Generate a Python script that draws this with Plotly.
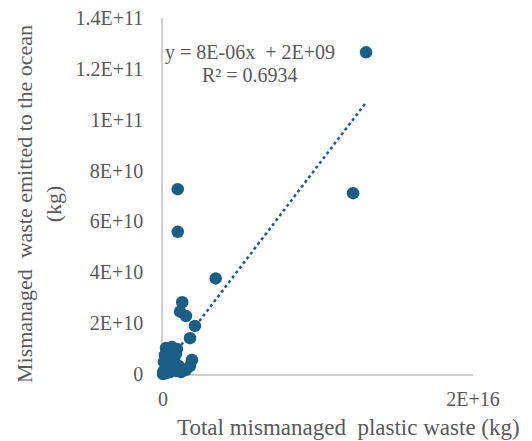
import plotly.graph_objects as go

# Total mismanaged plastic waste (kg) vs mismanaged waste emitted to the ocean (kg)
total_mismanaged = [
    1.31e16, 1.226e16, 9.5e14, 9.5e14, 3.4e15, 1.24e15, 1.1e15, 1.48e15, 2.06e15, 1.74e15,
    1.87e15, 1.74e15, 1.48e15, 1.16e15,
    1.9e14, 5.8e14, 9.0e14, 1.3e14, 4.5e14, 8.4e14, 6e13, 3.2e14, 7.1e14, 1.03e15,
    1.3e14, 4.5e14, 8.4e14, 2e13, 1e13, 5e12, 1e14, 2.5e14, 6e14, 3e13, 1.5e14, 3.5e14,
]
ocean_emitted = [
    1.265e11, 7.11e10, 7.27e10, 5.59e10, 3.76e10, 2.82e10, 2.45e10, 2.28e10, 1.89e10, 1.41e10,
    5.5e9, 3.1e9, 1.6e9, 8e8,
    1.02e10, 1.06e10, 9.8e9, 7.5e9, 7.1e9, 7.9e9, 4.7e9, 3.9e9, 5.5e9, 3.1e9,
    1.6e9, 8e8, 1.2e9, 2e8, 1e8, 5e7, 3e8, 5e8, 2.5e9, 1e9, 6e9, 9e9,
]

# Linear trendline as reported on the chart
trend_slope = 8e-06
trend_intercept = 2e09
trend_label = "y = 8E-06x\u00a0 + 2E+09"
r2_label = "R² = 0.6934"

y_tickvals = [0, 2e10, 4e10, 6e10, 8e10, 1e11, 1.2e11, 1.4e11]
y_ticktext = ["0", "2E+10", "4E+10", "6E+10", "8E+10", "1E+11", "1.2E+11", "1.4E+11"]
x_tickvals = [0, 2e16]
x_ticktext = ["0", "2E+16"]

x_title = "Total mismanaged\u00a0 plastic waste (kg)"
y_title = "Mismanaged\u00a0 waste emitted to the ocean<br>(kg)"

COLOR = "#1a5e86"
TEXT = "#595959"
FONT = "Liberation Serif"

xmin, xmax = min(total_mismanaged), max(total_mismanaged)
trend_x = [xmin, xmax]
trend_y = [trend_slope * v + trend_intercept for v in trend_x]

# page body has an 8px default margin; the figure is sized to fill the rest
PAD = 8
L, R, T, B = 163 - PAD, 59, 18 - PAD, 67
PW, PH = 310, 356  # plot area size in px

def px_x(px):
    return (px - 163) / PW

def px_y(py):
    return (374 - py) / PH

fig = go.Figure()
fig.add_trace(go.Scatter(
    x=trend_x, y=trend_y, mode="lines",
    line=dict(color=COLOR, width=2.5, dash="dot"),
    hoverinfo="skip", cliponaxis=False,
))
fig.add_trace(go.Scatter(
    x=total_mismanaged, y=ocean_emitted, mode="markers",
    marker=dict(color=COLOR, size=12.5, line=dict(width=0)),
    cliponaxis=False,
))

fig.update_layout(
    width=532 - PAD, height=441 - PAD,
    margin=dict(l=L, r=R, t=T, b=B, autoexpand=False),
    paper_bgcolor="white", plot_bgcolor="white",
    showlegend=False,
    font=dict(family=FONT, color=TEXT, size=20),
    xaxis=dict(
        range=[0, 2e16], tickvals=x_tickvals, ticktext=x_ticktext,
        showgrid=False, zeroline=False, showline=True, linecolor="#d0d0d0", linewidth=1.5,
        ticks="", ticklabelstandoff=6, layer="below traces", automargin=False,
        ticklabeloverflow="allow",
        tickfont=dict(family=FONT, color=TEXT, size=20),
    ),
    yaxis=dict(
        range=[0, 1.4e11], tickvals=y_tickvals, ticktext=y_ticktext,
        showgrid=False, zeroline=False, showline=True, linecolor="#d0d0d0", linewidth=1.5,
        ticks="", ticklabelstandoff=14, layer="below traces", automargin=False,
        ticklabeloverflow="allow",
        tickfont=dict(family=FONT, color=TEXT, size=20),
    ),
    annotations=[
        dict(text=trend_label, xref="paper", yref="paper", x=px_x(250), y=px_y(52),
             xanchor="center", yanchor="middle", showarrow=False,
             font=dict(family=FONT, color=TEXT, size=20)),
        dict(text=r2_label, xref="paper", yref="paper", x=px_x(250), y=px_y(75),
             xanchor="center", yanchor="middle", showarrow=False,
             font=dict(family=FONT, color=TEXT, size=20)),
        dict(text=x_title, xref="paper", yref="paper", x=px_x(348), y=px_y(427),
             xanchor="center", yanchor="middle", showarrow=False,
             font=dict(family=FONT, color=TEXT, size=23)),
        dict(text=y_title, xref="paper", yref="paper", x=px_x(39), y=px_y(204),
             xanchor="center", yanchor="middle", showarrow=False, textangle=-90,
             font=dict(family=FONT, color=TEXT, size=22)),
    ],
)

fig.write_html("out.html")
